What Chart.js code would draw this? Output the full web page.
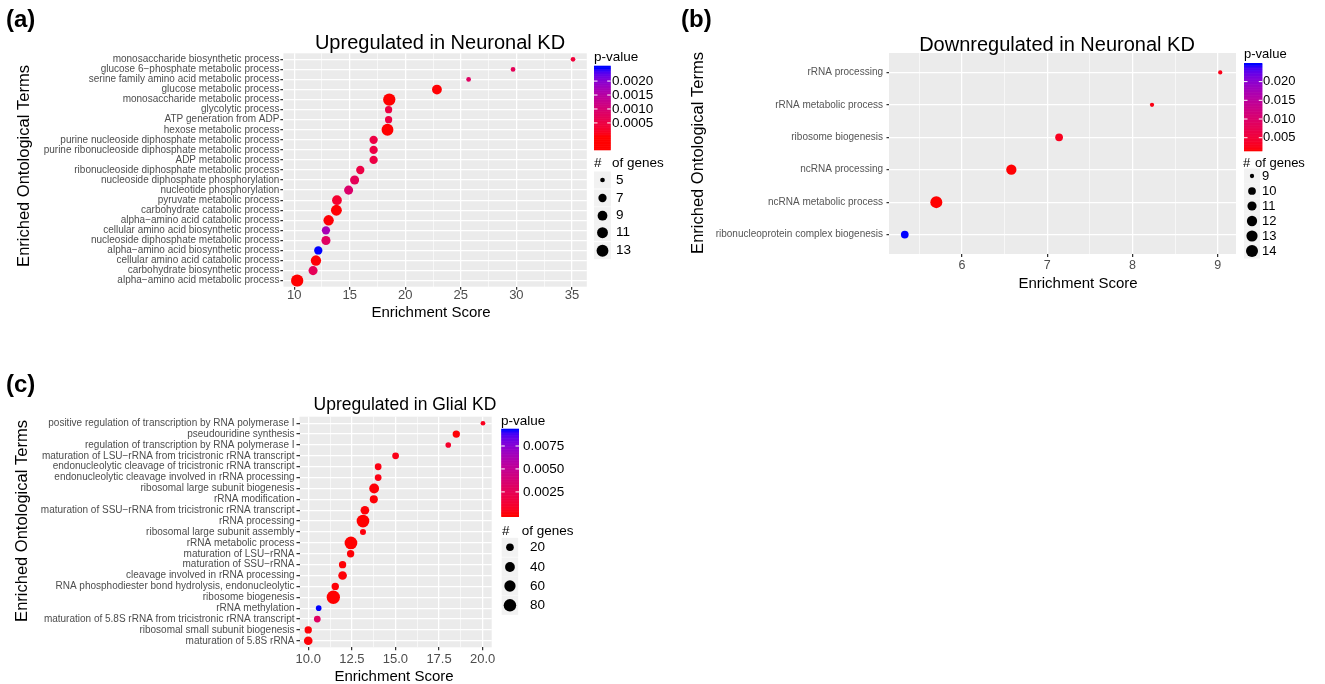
<!DOCTYPE html>
<html><head><meta charset="utf-8">
<script src="https://cdn.jsdelivr.net/npm/chart.js@4/dist/chart.umd.min.js"></script>
<style>
html,body{margin:0;padding:0;background:#fff;width:1325px;height:684px;overflow:hidden}
canvas{position:absolute}
</style></head><body>
<canvas id="ca" width="680" height="340" style="left:0;top:0"></canvas>
<canvas id="cb" width="645" height="340" style="left:680px;top:0"></canvas>
<canvas id="cc" width="680" height="324" style="left:0;top:360px"></canvas>
<script>
// ---------- Panel (a): Upregulated in Neuronal KD ----------
const termsA = ["monosaccharide biosynthetic process","glucose 6\u2212phosphate metabolic process","serine family amino acid metabolic process","glucose metabolic process","monosaccharide metabolic process","glycolytic process","ATP generation from ADP","hexose metabolic process","purine nucleoside diphosphate metabolic process","purine ribonucleoside diphosphate metabolic process","ADP metabolic process","ribonucleoside diphosphate metabolic process","nucleoside diphosphate phosphorylation","nucleotide phosphorylation","pyruvate metabolic process","carbohydrate catabolic process","alpha\u2212amino acid catabolic process","cellular amino acid biosynthetic process","nucleoside diphosphate metabolic process","alpha\u2212amino acid biosynthetic process","cellular amino acid catabolic process","carbohydrate biosynthetic process","alpha\u2212amino acid metabolic process"];
const scoreA = [35.1,29.7,25.7,22.85,18.56,18.5,18.5,18.4,17.15,17.15,17.15,15.95,15.44,14.9,13.85,13.8,13.1,12.86,12.86,12.17,11.96,11.7,10.27];
const genesA = [5,5,5,9,14,6,6,13,7,7,7,7,8,8,9,11,10,7,8,7,10,8,14];
const pvalA  = [0.0004,0.0007,0.0008,0.00002,0.00001,0.0005,0.0005,0.00001,0.0005,0.0005,0.0005,0.0005,0.0007,0.0009,0.0003,0.00002,0.00003,0.0017,0.0008,0.00245,0.00003,0.0007,0.00001];
const xTicksA = [10,15,20,25,30,35];
const pTicksA = [0.0005,0.0010,0.0015,0.0020];
const pTickLabelsA = ["0.0005","0.0010","0.0015","0.0020"];
const sizeBreaksA = [5,7,9,11,13];

// ---------- Panel (b): Downregulated in Neuronal KD ----------
const termsB = ["rRNA processing","rRNA metabolic process","ribosome biogenesis","ncRNA processing","ncRNA metabolic process","ribonucleoprotein complex biogenesis"];
const scoreB = [9.03,8.23,7.14,6.58,5.70,5.33];
const genesB = [9,9,10,12,14,10];
const pvalB  = [0.0025,0.0023,0.0030,0.0016,0.0015,0.0245];
const xTicksB = [6,7,8,9];
const pTicksB = [0.005,0.010,0.015,0.020];
const pTickLabelsB = ["0.005","0.010","0.015","0.020"];
const sizeBreaksB = [9,10,11,12,13,14];

// ---------- Panel (c): Upregulated in Glial KD ----------
const termsC = ["positive regulation of transcription by RNA polymerase I","pseudouridine synthesis","regulation of transcription by RNA polymerase I","maturation of LSU\u2212rRNA from tricistronic rRNA transcript","endonucleolytic cleavage of tricistronic rRNA transcript","endonucleolytic cleavage involved in rRNA processing","ribosomal large subunit biogenesis","rRNA modification","maturation of SSU\u2212rRNA from tricistronic rRNA transcript","rRNA processing","ribosomal large subunit assembly","rRNA metabolic process","maturation of LSU\u2212rRNA","maturation of SSU\u2212rRNA","cleavage involved in rRNA processing","RNA phosphodiester bond hydrolysis, endonucleolytic","ribosome biogenesis","rRNA methylation","maturation of 5.8S rRNA from tricistronic rRNA transcript","ribosomal small subunit biogenesis","maturation of 5.8S rRNA"];
const scoreC = [20.02,18.49,18.03,15.01,14.01,14.01,13.78,13.76,13.25,13.14,13.14,12.45,12.43,11.97,11.97,11.55,11.44,10.6,10.52,10.0,10.0];
const genesC = [10,18,11,15,15,15,40,23,28,84,12,84,18,18,28,18,95,11,15,18,28];
const pvalC  = [0.0006,0.0001,0.001,0.0004,0.0003,0.0003,0.0001,0.0001,0.0001,0.00001,0.0002,0.00001,0.0001,0.0001,0.0001,0.0001,0.00001,0.0092,0.003,0.0001,0.0001];
const xTicksC = [10,12.5,15,17.5,20];
const xTickLabelsC = ["10.0","12.5","15.0","17.5","20.0"];
const pTicksC = [0.0025,0.0050,0.0075];
const pTickLabelsC = ["0.0025","0.0050","0.0075"];
const sizeBreaksC = [20,40,60,80];

// ---------- helpers ----------
const FONT = '"Liberation Sans", Arial, Helvetica, sans-serif';
Chart.defaults.font.family = FONT;

function srgb2lin(c){c/=255;return c<=0.04045?c/12.92:Math.pow((c+0.055)/1.055,2.4);}
function lin2srgb(c){c=c<=0.0031308?12.92*c:1.055*Math.pow(c,1/2.4)-0.055;return Math.round(Math.max(0,Math.min(1,c))*255);}
function rgb2lab(r,g,b){const R=srgb2lin(r),G=srgb2lin(g),B=srgb2lin(b);
  const X=(0.4124564*R+0.3575761*G+0.1804375*B)/0.95047,Y=(0.2126729*R+0.7151522*G+0.0721750*B),Z=(0.0193339*R+0.1191920*G+0.9503041*B)/1.08883;
  const f=t=>t>0.008856?Math.cbrt(t):7.787*t+16/116;
  return [116*f(Y)-16,500*(f(X)-f(Y)),200*(f(Y)-f(Z))];}
function lab2rgb(L,a,b){const fy=(L+16)/116,fx=fy+a/500,fz=fy-b/200;
  const fi=t=>t*t*t>0.008856?t*t*t:(t-16/116)/7.787;
  const X=fi(fx)*0.95047,Y=fi(fy),Z=fi(fz)*1.08883;
  return [lin2srgb(3.2404542*X-1.5371385*Y-0.4985314*Z),lin2srgb(-0.9692660*X+1.8760108*Y+0.0415560*Z),lin2srgb(0.0556434*X-0.2040259*Y+1.0572252*Z)];}
const LAB_LO = rgb2lab(255,0,0), LAB_HI = rgb2lab(0,0,255);
function grad(t){t=Math.max(0,Math.min(1,t));
  const c=lab2rgb(LAB_LO[0]+(LAB_HI[0]-LAB_LO[0])*t,LAB_LO[1]+(LAB_HI[1]-LAB_LO[1])*t,LAB_LO[2]+(LAB_HI[2]-LAB_LO[2])*t);
  return 'rgb('+c[0]+','+c[1]+','+c[2]+')';}

function txt(ctx,s,x,y,size,o){o=o||{};ctx.save();
  ctx.font=(o.bold?'bold ':'')+size+'px '+FONT;ctx.fillStyle=o.color||'#000';
  ctx.textAlign=o.align||'left';ctx.textBaseline=o.baseline||'alphabetic';
  if(o.rot){ctx.translate(x,y);ctx.rotate(o.rot);ctx.fillText(s,0,0);}else ctx.fillText(s,x,y);
  ctx.restore();}

function diamFn(d){return n=>d.dMin+(d.dMax-d.dMin)*Math.sqrt(Math.max(0,(n-d.nMin)/(d.nMax-d.nMin)));}

function makePanel(cfg){
  const cv=document.getElementById(cfg.id);
  const W=cv.width,H=cv.height;
  const L=cfg.plot.l-cfg.ox,R=cfg.plot.r-cfg.ox,T=cfg.plot.t-cfg.oy,B=cfg.plot.b-cfg.oy;
  const n=cfg.terms.length;
  const pMin=Math.min(...cfg.p),pMax=Math.max(...cfg.p);
  const pcol=p=>grad((p-pMin)/(pMax-pMin));
  const dia=diamFn(cfg.size);
  const pts=cfg.score.map((s,i)=>({x:s,y:i,r:dia(cfg.genes[i])/2}));
  const cols=cfg.p.map(pcol);
  const isMajor=v=>cfg.xMajor.some(m=>Math.abs(m-v)<1e-9);
  const step=cfg.xMajor[1]-cfg.xMajor[0];
  const minors=[];
  for(let i=-1;i<cfg.xMajor.length;i++){const m=cfg.xMajor[0]+step*(i+0.5);if(m>cfg.xmin&&m<cfg.xmax)minors.push(m);}
  const xt=cfg.xMajor.concat(minors).sort((a,b)=>a-b);

  const deco={
    id:'deco'+cfg.id,
    beforeDraw(chart){const c=chart.ctx,a=chart.chartArea;c.save();c.fillStyle='#EBEBEB';c.fillRect(a.left,a.top,a.right-a.left,a.bottom-a.top);c.restore();},
    afterDraw(chart){
      const c=chart.ctx;c.save();c.translate(-cfg.ox,-cfg.oy);
      txt(c,cfg.tag.s,cfg.tag.x,cfg.tag.y,24,{bold:true});
      txt(c,cfg.title.s,cfg.title.x,cfg.title.y,cfg.title.size,{align:'center'});
      const xs=chart.scales.x;
      cfg.xMajor.forEach((v,i)=>{txt(c,cfg.xLabels[i],xs.getPixelForValue(v)+cfg.ox,cfg.xLabelY,cfg.xLabelSize,{align:'center',color:'#4D4D4D'});});
      txt(c,'Enrichment Score',cfg.xTitle.x,cfg.xTitle.y,cfg.xTitle.size,{align:'center'});
      txt(c,'Enriched Ontological Terms',cfg.yTitle.x,cfg.yTitle.y,cfg.yTitle.size,{align:'center',rot:-Math.PI/2});
      const lg=cfg.legend,b=lg.bar;
      txt(c,'p-value',lg.pTitle.x,lg.pTitle.y,lg.fs);
      const N=120;
      for(let k=0;k<N;k++){
        const y0=b.y1-(b.y1-b.y0)*(k+1)/N,y1=b.y1-(b.y1-b.y0)*k/N;
        const v=b.lo+(b.hi-b.lo)*(k+0.5)/N;
        c.fillStyle=pcol(v);c.fillRect(b.x0,y0-0.3,b.x1-b.x0,y1-y0+0.6);
      }
      lg.ticks.forEach((v,i)=>{
        const y=b.y1-(v-b.lo)/(b.hi-b.lo)*(b.y1-b.y0);
        c.strokeStyle='#fff';c.lineWidth=1;
        c.beginPath();c.moveTo(b.x0,y);c.lineTo(b.x0+3.5,y);c.moveTo(b.x1-3.5,y);c.lineTo(b.x1,y);c.stroke();
        txt(c,lg.tickLabels[i],lg.labelX,y,lg.fs,{baseline:'middle'});
      });
      const s=lg.size;
      txt(c,'#',s.hashX,s.titleY,lg.fs,{baseline:'middle'});
      txt(c,'of genes',s.ofX,s.titleY,lg.fs,{baseline:'middle'});
      s.breaks.forEach((g,i)=>{
        const cy=s.cy[i];
        c.fillStyle='#F2F2F2';c.fillRect(s.x0,cy-s.h/2,s.w,s.h);
        c.fillStyle='#000';c.beginPath();c.arc(s.x0+s.w/2,cy,dia(g)/2,0,Math.PI*2);c.fill();
        txt(c,String(g),s.labelX,cy,lg.fs,{baseline:'middle'});
      });
      c.restore();
    }
  };

  new Chart(cv,{
    type:'bubble',
    data:{datasets:[{data:pts,backgroundColor:cols,borderColor:cols,borderWidth:0,hoverRadius:0,hoverBorderWidth:0}]},
    options:{
      responsive:false,animation:false,events:[],devicePixelRatio:1,
      layout:{padding:{left:0,top:T,right:W-R,bottom:0}},
      plugins:{legend:{display:false},tooltip:{enabled:false},title:{display:false}},
      scales:{
        x:{type:'linear',min:cfg.xmin,max:cfg.xmax,
          afterBuildTicks:s=>{s.ticks=xt.map(v=>({value:v}));},
          afterFit:s=>{s.height=H-B;},
          grid:{color:'#FFFFFF',lineWidth:c=>isMajor(c.tick.value)?1.25:0.6,
                tickColor:c=>isMajor(c.tick.value)?'#333333':'rgba(0,0,0,0)',tickLength:3,drawTicks:true},
          border:{display:false},
          ticks:{display:false}
        },
        y:{type:'linear',reverse:true,min:-0.6,max:n-0.4,
          afterBuildTicks:s=>{s.ticks=cfg.terms.map((t,i)=>({value:i}));},
          afterFit:s=>{s.width=L;},
          grid:{color:'#FFFFFF',lineWidth:1.25,tickColor:'#333333',tickLength:cfg.tickLen,drawTicks:true},
          border:{display:false},
          ticks:{callback:v=>cfg.terms[v],color:cfg.yLabelColor,font:{size:cfg.yLabelSize},padding:cfg.yPad,autoSkip:false}
        }
      }
    },
    plugins:[deco]
  });
}

makePanel({id:'ca',ox:0,oy:0,terms:termsA,score:scoreA,genes:genesA,p:pvalA,
  plot:{l:283.4,r:586.8,t:53.3,b:286.7},xmin:9.03,xmax:36.34,xMajor:xTicksA,xLabels:xTicksA.map(String),
  xLabelY:298.6,xLabelSize:13,yLabelSize:10,yLabelColor:'#4D4D4D',yPad:1,tickLen:3,
  size:{nMin:5,nMax:14,dMin:4.7,dMax:12.3},
  tag:{s:'(a)',x:6,y:27},title:{s:'Upregulated in Neuronal KD',x:440,y:49,size:20},
  xTitle:{x:431,y:316.5,size:15},yTitle:{x:28.5,y:166,size:16.5},
  legend:{fs:13.5,pTitle:{x:594,y:60.7},bar:{x0:594,x1:610.7,y0:66,y1:150,lo:-0.00047,hi:0.00254},
    ticks:pTicksA,tickLabels:pTickLabelsA,labelX:612,
    size:{breaks:sizeBreaksA,hashX:594,ofX:612,titleY:163.3,x0:594,w:17,h:17,cy:[180,198,215.7,232.7,250.7],labelX:616}}
});

makePanel({id:'cb',ox:680,oy:0,terms:termsB,score:scoreB,genes:genesB,p:pvalB,
  plot:{l:889,r:1236,t:53,b:254},xmin:5.145,xmax:9.215,xMajor:xTicksB,xLabels:xTicksB.map(String),
  xLabelY:268.5,xLabelSize:12.5,yLabelSize:10,yLabelColor:'#555555',yPad:3.5,tickLen:2.5,
  size:{nMin:9,nMax:14,dMin:4.3,dMax:12},
  tag:{s:'(b)',x:681,y:27},title:{s:'Downregulated in Neuronal KD',x:1057,y:50.7,size:20},
  xTitle:{x:1078,y:288,size:15},yTitle:{x:702.7,y:153,size:16.5},
  legend:{fs:13,pTitle:{x:1244,y:58},bar:{x0:1244,x1:1262.3,y0:63.3,y1:151,lo:0.00144,hi:0.0249},
    ticks:pTicksB,tickLabels:pTickLabelsB,labelX:1263,
    size:{breaks:sizeBreaksB,hashX:1243,ofX:1255,titleY:163,x0:1244,w:16,h:15,cy:[176,191,206,221,236,251],labelX:1262}}
});

makePanel({id:'cc',ox:0,oy:360,terms:termsC,score:scoreC,genes:genesC,p:pvalC,
  plot:{l:299.5,r:491.7,t:416.7,b:647.3},xmin:9.5,xmax:20.52,xMajor:xTicksC,xLabels:xTickLabelsC,
  xLabelY:663.3,xLabelSize:13,yLabelSize:10,yLabelColor:'#4D4D4D',yPad:2,tickLen:3,
  size:{nMin:10,nMax:95,dMin:4.7,dMax:13.3},
  tag:{s:'(c)',x:6,y:392},title:{s:'Upregulated in Glial KD',x:405,y:410,size:17.5},
  xTitle:{x:394,y:681,size:15},yTitle:{x:27,y:521,size:16.5},
  legend:{fs:13.5,pTitle:{x:501,y:425},bar:{x0:501.3,x1:519,y0:429,y1:516.7,lo:-0.0002,hi:0.00935},
    ticks:pTicksC,tickLabels:pTickLabelsC,labelX:523,
    size:{breaks:sizeBreaksC,hashX:502,ofX:521.7,titleY:531.7,x0:501.7,w:16.5,h:19,cy:[547.3,567,586,605.3],labelX:530}}
});
</script>
</body></html>
